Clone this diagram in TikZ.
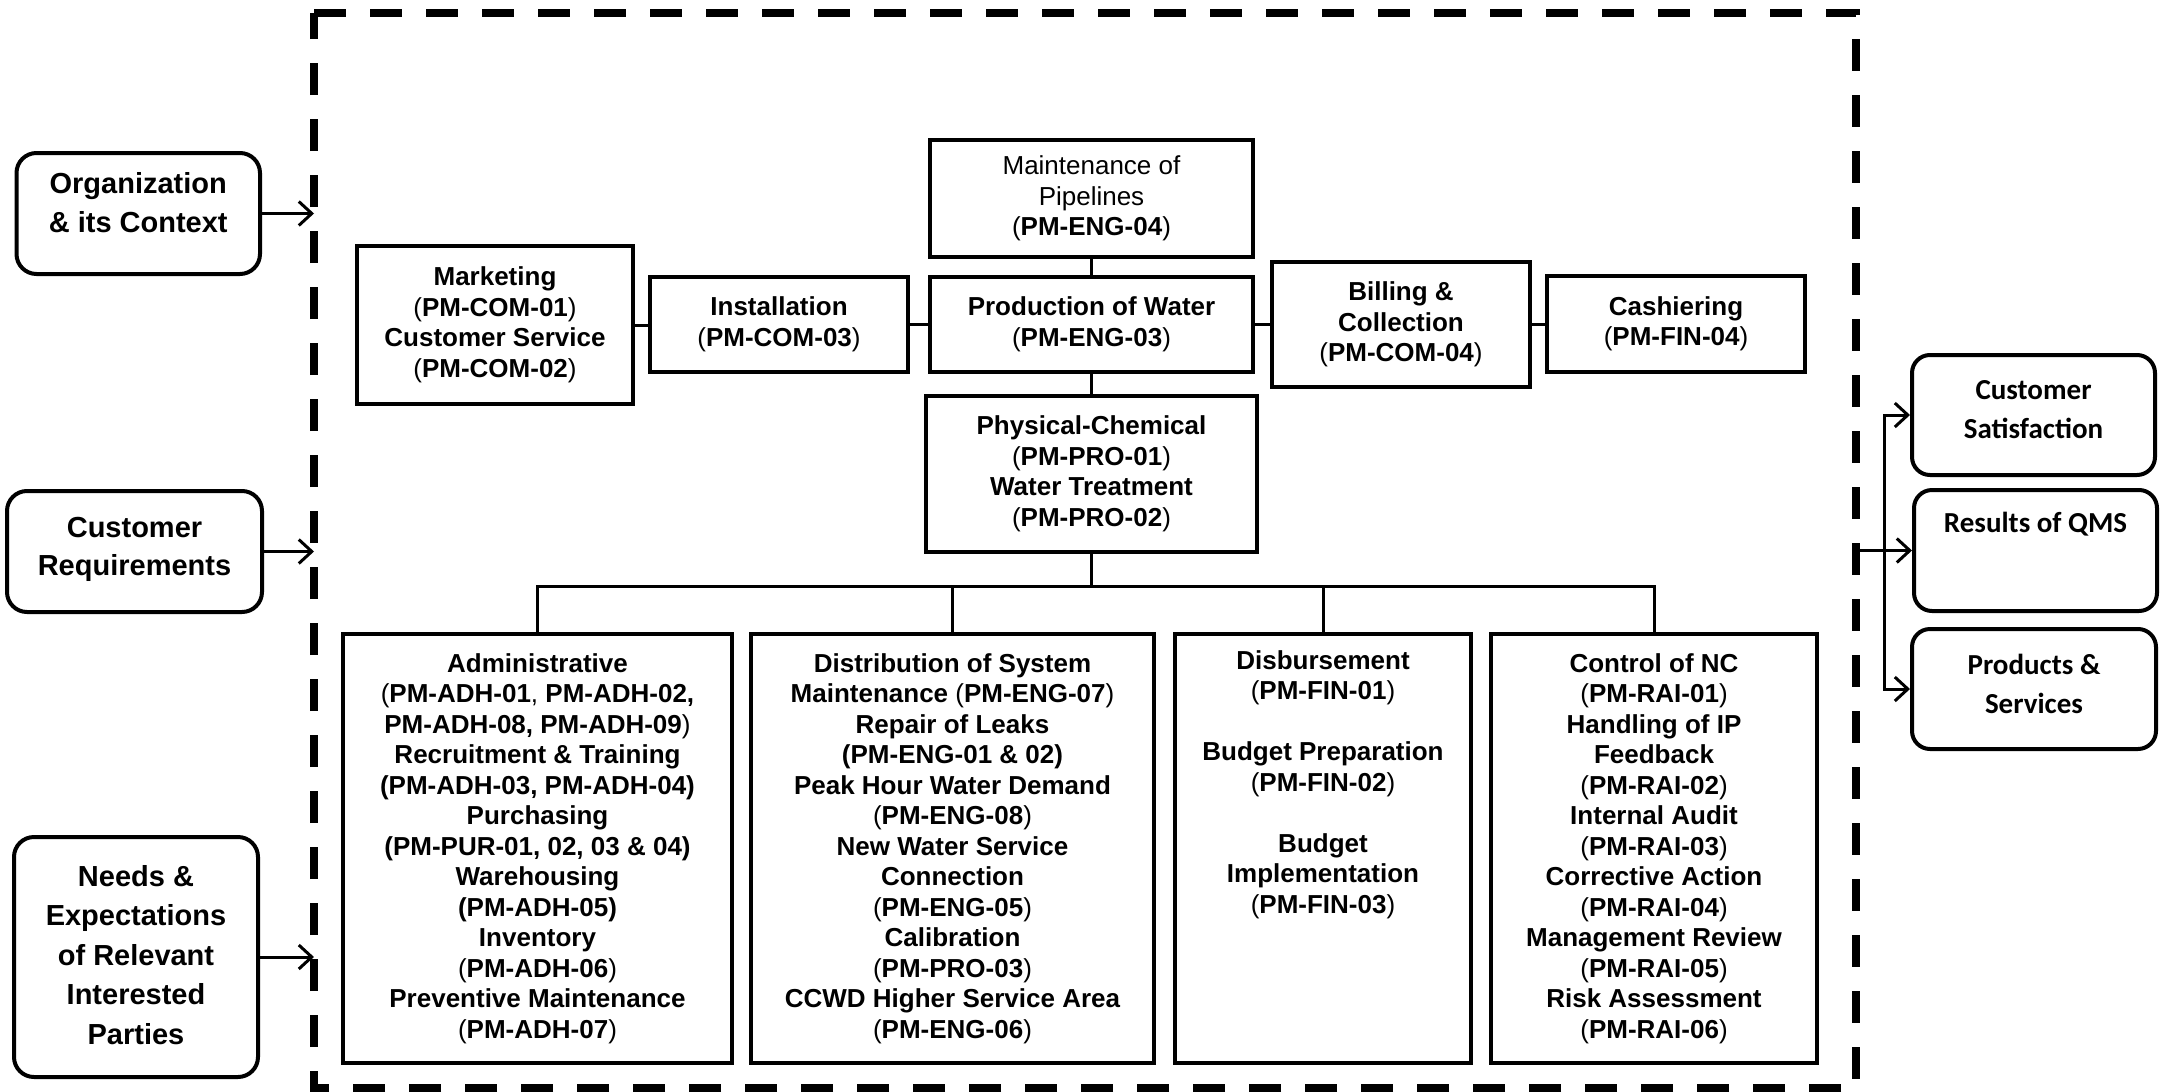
\documentclass[tikz,border=0pt]{standalone}
\usepackage{fontspec}
\setmainfont{Liberation Sans}
\newfontfamily\calibfont{Carlito}
\usetikzlibrary{arrows.meta}
\newcommand{\rp}[1]{\textmd{(}#1\textmd{)}}
\newcommand{\lift}[1]{\rule[-#1]{0pt}{#1}}
\begin{document}
\begin{tikzpicture}[x=1pt,y=-1pt,
  box/.style={draw, line width=4pt, inner sep=0pt, align=center,
    font=\fontsize{26}{30.5}\selectfont\bfseries},
  rbox/.style={draw, line width=4pt, rounded corners=20pt, inner sep=0pt, align=center,
    font=\fontsize{29}{38.6}\selectfont\bfseries},
  obox/.style={draw, line width=4pt, rounded corners=18pt, inner sep=0pt, align=center,
    font=\calibfont\fontsize{29}{38.6}\selectfont\bfseries},
  conn/.style={line width=3pt},
  arr/.style={line width=3pt, -{Straight Barb[length=13pt,width=24pt]}},
  frame/.style={line width=7.5pt, dash pattern=on 32pt off 24pt}]
\useasboundingbox (0,0) rectangle (2163,1092);

% dashed frame
\draw[frame] (314,13) -- (1856,13) -- (1856,1088) -- (314,1088) -- cycle;
\coordinate (fl) at (314,0);
\coordinate (fr) at (1856,550.5);
\coordinate (rb) at (1884,550.5);
\coordinate (tb) at (1091.5,586);

% left inputs
\node[rbox, minimum width=243.5pt, minimum height=121pt] (org) at (138.25,213.5) {Organization\\\& its Context\lift{22pt}};
\node[rbox, minimum width=255pt, minimum height=121pt] (creq) at (134.5,551.5) {Customer\\Requirements\lift{10pt}};
\node[rbox, minimum width=244pt, minimum height=240pt, font=\fontsize{29}{39.5}\selectfont\bfseries] (needs) at (136,957) {Needs \&\\Expectations\\of Relevant\\Interested\\Parties\lift{5pt}};

% top row
\node[box, minimum width=323pt, minimum height=117pt] (maint) at (1091.5,198.5) {\textmd{Maintenance of}\\\textmd{Pipelines}\\\rp{PM-ENG-04}};
\node[box, minimum width=276pt, minimum height=158pt] (mkt) at (495,325) {Marketing\\\rp{PM-COM-01}\\Customer Service\\\rp{PM-COM-02}};
\node[box, minimum width=258pt, minimum height=95pt] (inst) at (779,324.5) {Installation\\\rp{PM-COM-03}};
\node[box, minimum width=323pt, minimum height=95pt] (prod) at (1091.5,324.5) {Production of Water\\\rp{PM-ENG-03}};
\node[box, minimum width=258pt, minimum height=125pt] (bill) at (1401,324.5) {Billing \&\\Collection\\\rp{PM-COM-04}};
\node[box, minimum width=258pt, minimum height=96pt] (cash) at (1676,324) {Cashiering\\\rp{PM-FIN-04}};
\node[box, minimum width=331pt, minimum height=156pt] (phys) at (1091.5,474) {Physical-Chemical\\\rp{PM-PRO-01}\\Water Treatment\\\rp{PM-PRO-02}};

% bottom row
\node[box, minimum width=389pt, minimum height=429pt] (admin) at (537.5,848.5) {Administrative\\\textmd{(}PM-ADH-01\textmd{,} PM-ADH-02,\\PM-ADH-08, PM-ADH-09\textmd{)}\\Recruitment \& Training\\(PM-ADH-03, PM-ADH-04)\\Purchasing\\(PM-PUR-01, 02, 03 \& 04)\\Warehousing\\(PM-ADH-05)\\Inventory\\\rp{PM-ADH-06}\\Preventive Maintenance\\\rp{PM-ADH-07}};
\node[box, minimum width=403pt, minimum height=429pt] (dist) at (952.5,848.5) {Distribution of System\\Maintenance \rp{PM-ENG-07}\\Repair of Leaks\\(PM-ENG-01 \& 02)\\Peak Hour Water Demand\\\rp{PM-ENG-08}\\New Water Service\\Connection\\\rp{PM-ENG-05}\\Calibration\\\rp{PM-PRO-03}\\CCWD Higher Service Area\\\rp{PM-ENG-06}};
\node[box, minimum width=295.5pt, minimum height=429pt] (disb) at (1323,848.5) {Disbursement\\\rp{PM-FIN-01}\\~\\Budget Preparation\\\rp{PM-FIN-02}\\~\\Budget\\Implementation\\\rp{PM-FIN-03}\\~\\~\\~\\~\lift{11pt}};
\node[box, minimum width=326pt, minimum height=429pt] (ctrl) at (1654,848.5) {Control of NC\\\rp{PM-RAI-01}\\Handling of IP\\Feedback\\\rp{PM-RAI-02}\\Internal Audit\\\rp{PM-RAI-03}\\Corrective Action\\\rp{PM-RAI-04}\\Management Review\\\rp{PM-RAI-05}\\Risk Assessment\\\rp{PM-RAI-06}};

% right outputs
\node[obox, minimum width=243pt, minimum height=120pt] (cs) at (2033.5,415) {Customer\\Satisfaction\lift{11pt}};
\node[obox, minimum width=243pt, minimum height=121pt] (qms) at (2035.5,550.5) {};
\node[anchor=base, inner sep=0pt, font=\calibfont\fontsize{29}{38.6}\selectfont\bfseries] (qmslabel) at (2035.5,532) {Results of QMS};
\node[obox, minimum width=244pt, minimum height=120pt] (ps) at (2034,689) {Products \&\\Services\lift{10pt}};

% connectors top
\draw[conn] (maint.south) -- (prod.north);
\draw[conn] (mkt.east) -- (mkt.east -| inst.west);
\draw[conn] (inst.east) -- (prod.west);
\draw[conn] (prod.east) -- (bill.west);
\draw[conn] (bill.east) -- (bill.east -| cash.west);
\draw[conn] (prod.south) -- (phys.north);

% tree
\draw[conn] (phys.south) -- (tb);
\draw[conn] (admin.north) |- (tb) -| (ctrl.north);
\draw[conn] (dist.north) -- (dist.north |- tb);
\draw[conn] (disb.north) -- (disb.north |- tb);

% inputs
\draw[arr] (org.east) -- (org.east -| fl);
\draw[arr] (creq.east) -- (creq.east -| fl);
\draw[arr] (needs.east) -- (needs.east -| fl);

% outputs
\draw[conn] (fr) -- (rb);
\draw[arr] (rb) -- (qms.west);
\draw[arr] (rb) |- (cs.west);
\draw[arr] (rb) |- (ps.west);
\end{tikzpicture}
\end{document}
